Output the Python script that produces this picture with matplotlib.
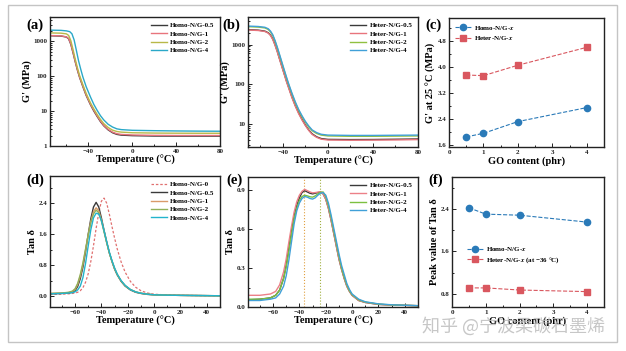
import matplotlib
matplotlib.use("Agg")
import matplotlib.pyplot as plt
from matplotlib.ticker import MultipleLocator, LogLocator, NullFormatter, FixedLocator
from matplotlib.patches import Rectangle

# ---------------- data ----------------
# (a) Homo G' (MPa) vs T
a_T_black = [-75, -65, -60, -58, -56, -54, -52, -50, -48, -45, -42, -38, -35, -32, -29, -26, -22, -18, -14, -10, 0, 20, 40, 60, 80]
a_black   = [1450, 1420, 1330, 1180, 820, 470, 260, 150, 92, 50, 28, 15, 10, 7.0, 5.0, 3.8, 2.9, 2.4, 2.15, 2.05, 1.98, 1.93, 1.92, 1.92, 1.92]
a_red     = [1470, 1440, 1350, 1200, 850, 490, 270, 155, 95, 52, 29, 15.5, 10.5, 7.3, 5.2, 3.9, 3.0, 2.5, 2.25, 2.15, 2.07, 2.02, 2.0, 2.0, 2.0]
a_olive   = [1750, 1720, 1640, 1480, 1050, 580, 310, 175, 105, 57, 32, 17, 11.5, 8.0, 5.8, 4.4, 3.4, 2.85, 2.6, 2.5, 2.4, 2.35, 2.33, 2.32, 2.32]
a_T_teal  = [-75, -65, -60, -57, -55, -53, -51, -49, -47, -45, -42, -38, -35, -32, -29, -26, -22, -18, -14, -10, 0, 20, 40, 60, 80]
a_teal    = [2100, 2070, 2000, 1900, 1650, 1100, 560, 280, 160, 95, 50, 25, 15.5, 10.5, 7.4, 5.6, 4.2, 3.5, 3.1, 2.95, 2.82, 2.75, 2.7, 2.67, 2.65]
a_labels = ["Homo-N/G-0.5", "Homo-N/G-1", "Homo-N/G-2", "Homo-N/G-4"]

# (b) Heter G' (MPa) vs T
b_T      = [-71, -62, -56, -53, -51, -49, -47, -45, -43, -41, -39, -37, -35, -32, -29, -26, -23, -20, -17, -14, -10, -6, 0, 20, 40, 60, 80]
b_black  = [2400, 2330, 2200, 2000, 1750, 1400, 1000, 680, 440, 290, 190, 125, 85, 48, 29, 19, 13, 9.3, 7.0, 5.6, 4.7, 4.25, 4.05, 4.0, 4.02, 4.08, 4.15]
b_red    = [2350, 2280, 2150, 1950, 1700, 1350, 970, 660, 430, 280, 185, 120, 82, 46, 28, 18, 12.5, 9.0, 6.8, 5.4, 4.55, 4.1, 3.9, 3.85, 3.88, 3.92, 4.0]
b_olive  = [2850, 2780, 2650, 2420, 2100, 1700, 1220, 830, 540, 350, 230, 150, 100, 57, 34, 22, 15, 11, 8.3, 6.7, 5.7, 5.2, 4.95, 4.85, 4.85, 4.9, 4.95]
b_teal   = [2950, 2880, 2750, 2520, 2200, 1780, 1280, 870, 570, 370, 240, 158, 105, 60, 36, 23, 16, 11.5, 8.8, 7.0, 6.0, 5.45, 5.2, 5.1, 5.1, 5.15, 5.2]
b_labels = ["Heter-N/G-0.5", "Heter-N/G-1", "Heter-N/G-2", "Heter-N/G-4"]

# (c) G' at 25 C vs GO content
go_content = [0.5, 1, 2, 4]
c_homo  = [1.85, 1.96, 2.32, 2.75]
c_heter = [3.75, 3.73, 4.05, 4.60]

# (d) Homo tan delta vs T
d_T     = [-79, -70, -65, -62, -60, -58, -56, -54, -52, -50, -48, -46, -44, -42, -40, -38, -36, -34, -32, -30, -28, -25, -22, -18, -14, -10, -5, 0, 10, 20, 35, 50]
d_homo0 = [0.05, 0.05, 0.06, 0.07, 0.08, 0.10, 0.14, 0.22, 0.36, 0.58, 0.90, 1.30, 1.75, 2.15, 2.45, 2.53, 2.40, 2.12, 1.80, 1.50, 1.22, 0.88, 0.62, 0.38, 0.23, 0.14, 0.08, 0.05, 0.03, 0.02, 0.015, 0.01]
d_homo05 = [0.06, 0.07, 0.08, 0.10, 0.14, 0.25, 0.45, 0.75, 1.15, 1.60, 2.00, 2.30, 2.42, 2.30, 2.02, 1.70, 1.40, 1.12, 0.90, 0.70, 0.55, 0.38, 0.26, 0.16, 0.10, 0.07, 0.045, 0.035, 0.025, 0.02, 0.015, 0.01]
d_homo1 = [0.07, 0.08, 0.09, 0.12, 0.17, 0.30, 0.52, 0.82, 1.20, 1.58, 1.93, 2.18, 2.28, 2.20, 1.97, 1.68, 1.39, 1.12, 0.90, 0.71, 0.56, 0.39, 0.27, 0.17, 0.11, 0.075, 0.05, 0.035, 0.025, 0.02, 0.015, 0.01]
d_homo2 = [0.07, 0.08, 0.10, 0.13, 0.19, 0.33, 0.56, 0.86, 1.22, 1.58, 1.90, 2.12, 2.22, 2.15, 1.94, 1.66, 1.38, 1.12, 0.90, 0.71, 0.56, 0.39, 0.27, 0.17, 0.11, 0.075, 0.05, 0.035, 0.025, 0.02, 0.015, 0.01]
d_homo4 = [0.06, 0.07, 0.08, 0.09, 0.11, 0.16, 0.26, 0.48, 0.85, 1.30, 1.72, 2.02, 2.14, 2.12, 1.95, 1.69, 1.41, 1.14, 0.92, 0.73, 0.57, 0.40, 0.28, 0.17, 0.11, 0.075, 0.05, 0.035, 0.025, 0.02, 0.015, 0.01]
d_labels = ["Homo-N/G-0", "Homo-N/G-0.5", "Homo-N/G-1", "Homo-N/G-2", "Homo-N/G-4"]

# (e) Heter tan delta vs T
e_T      = [-79, -70, -62, -58, -55, -52, -50, -48, -46, -44, -42, -40, -38, -36, -34, -32, -30, -28, -26, -24, -22, -20, -18, -16, -14, -12, -10, -8, -6, -4, -2, 0, 5, 10, 20, 30, 50]
e_h05    = [0.055, 0.06, 0.07, 0.09, 0.13, 0.22, 0.32, 0.45, 0.58, 0.70, 0.78, 0.84, 0.88, 0.895, 0.885, 0.875, 0.87, 0.875, 0.88, 0.885, 0.87, 0.83, 0.76, 0.67, 0.57, 0.47, 0.37, 0.29, 0.22, 0.16, 0.12, 0.09, 0.05, 0.035, 0.02, 0.015, 0.01]
e_h1     = [0.09, 0.09, 0.10, 0.12, 0.17, 0.27, 0.37, 0.50, 0.62, 0.73, 0.81, 0.86, 0.89, 0.905, 0.895, 0.885, 0.878, 0.88, 0.884, 0.886, 0.87, 0.83, 0.76, 0.67, 0.57, 0.47, 0.37, 0.29, 0.22, 0.16, 0.12, 0.09, 0.05, 0.035, 0.02, 0.015, 0.01]
e_h2     = [0.06, 0.06, 0.07, 0.09, 0.13, 0.22, 0.31, 0.43, 0.56, 0.68, 0.76, 0.82, 0.85, 0.86, 0.855, 0.848, 0.845, 0.855, 0.87, 0.882, 0.885, 0.85, 0.78, 0.69, 0.59, 0.49, 0.39, 0.30, 0.23, 0.17, 0.125, 0.095, 0.055, 0.038, 0.022, 0.016, 0.01]
e_h4     = [0.05, 0.05, 0.06, 0.07, 0.10, 0.16, 0.24, 0.36, 0.50, 0.64, 0.74, 0.80, 0.835, 0.85, 0.845, 0.835, 0.83, 0.84, 0.86, 0.875, 0.88, 0.86, 0.80, 0.71, 0.61, 0.51, 0.41, 0.32, 0.25, 0.18, 0.135, 0.10, 0.06, 0.04, 0.024, 0.017, 0.01]
e_labels = ["Heter-N/G-0.5", "Heter-N/G-1", "Heter-N/G-2", "Heter-N/G-4"]
e_vlines = [-36.5, -24]

# (f) peak tan delta vs GO content
f_homo  = [2.42, 2.30, 2.28, 2.15]
f_heter = [0.91, 0.91, 0.87, 0.84]

watermark = "知乎 @宁波柔碳石墨烯"

# ---------------- style ----------------
SERIF = "Liberation Serif"
plt.rcParams["font.family"] = [SERIF, "DejaVu Serif"]
plt.rcParams["font.weight"] = "bold"
plt.rcParams["axes.labelweight"] = "bold"
plt.rcParams["mathtext.fontset"] = "stix"

W, H = 626, 351
fig = plt.figure(figsize=(W / 100, H / 100), dpi=100)
fig.patch.set_facecolor("white")

def ax_at(l, r, t, b):
    return fig.add_axes([l / W, (H - b) / H, (r - l) / W, (b - t) / H])

def style(ax):
    for s in ax.spines.values():
        s.set_linewidth(1.0)
        s.set_color("#222222")
    ax.tick_params(which="both", direction="in", labelsize=5, width=0.7, colors="#222222", pad=2)
    ax.tick_params(which="major", length=3)
    ax.tick_params(which="minor", length=1.6)
    for lab in ax.get_xticklabels() + ax.get_yticklabels():
        lab.set_fontweight("bold")

LBL = dict(fontsize=7.5, fontweight="bold", labelpad=1)
LEG = dict(frameon=False, prop={"size": 5, "weight": "bold", "family": SERIF},
           handlelength=2.3, labelspacing=0.35, handletextpad=0.5, borderaxespad=0.4)

c_black, c_red, c_olive, c_teal = "#3a3a3a", "#e8747c", "#b8b848", "#2aa8c8"

# outer frame
fig.add_artist(Rectangle((8 / W, (H - 342) / H), 609 / W, 337 / H, transform=fig.transFigure,
                         fill=False, edgecolor="#c4c4c4", linewidth=1.0))

# (a)
ax = ax_at(50, 220, 17, 146)
ax.plot(a_T_black, a_black, color=c_black, lw=1.0, label=a_labels[0])
ax.plot(a_T_black, a_red, color=c_red, lw=1.0, label=a_labels[1])
ax.plot(a_T_black, a_olive, color=c_olive, lw=1.0, label=a_labels[2])
ax.plot(a_T_teal, a_teal, color=c_teal, lw=1.0, label=a_labels[3])
ax.set_yscale("log")
ax.set_xlim(-75, 80)
ax.set_ylim(1, 5000)
ax.xaxis.set_major_locator(MultipleLocator(40))
ax.xaxis.set_minor_locator(MultipleLocator(20))
ax.set_yticks([1, 10, 100, 1000])
ax.set_yticklabels(["1", "10", "100", "1000"])
ax.yaxis.set_minor_locator(LogLocator(base=10, subs=range(2, 10)))
ax.yaxis.set_minor_formatter(NullFormatter())
ax.set_xlabel("Temperature (°C)", **LBL)
ax.set_ylabel("G' (MPa)", **LBL)
ax.legend(loc="upper right", **LEG)
style(ax)

# (b)
ax = ax_at(248, 418, 17, 147)
for y, c, l in zip([b_black, b_red, b_olive, b_teal], [c_black, c_red, "#90c040", "#40a0d8"], b_labels):
    ax.plot(b_T, y, color=c, lw=1.0, label=l)
ax.set_yscale("log")
ax.set_xlim(-71, 80)
ax.set_ylim(2.6, 5000)
ax.xaxis.set_major_locator(MultipleLocator(40))
ax.xaxis.set_minor_locator(MultipleLocator(20))
ax.set_yticks([10, 100, 1000])
ax.set_yticklabels(["10", "100", "1000"])
ax.yaxis.set_minor_locator(LogLocator(base=10, subs=range(2, 10)))
ax.yaxis.set_minor_formatter(NullFormatter())
ax.set_xlabel("Temperature (°C)", **LBL)
ax.set_ylabel("G' (MPa)", **LBL)
ax.legend(loc="upper right", **LEG)
style(ax)

c_blue_m, c_red_m = "#2a7ab8", "#d9575f"

# (c)
ax = ax_at(449, 604, 18, 147)
ax.plot(go_content, c_homo, ls="--", lw=0.8, color=c_blue_m, marker="o", ms=4.5, label="Homo-N/G-$x$")
ax.plot(go_content, c_heter, ls="--", lw=0.8, color=c_red_m, marker="s", ms=4.5, label="Heter-N/G-$x$")
ax.set_xlim(0, 4.5)
ax.set_ylim(1.54, 5.5)
ax.xaxis.set_major_locator(MultipleLocator(1))
ax.xaxis.set_minor_locator(MultipleLocator(0.5))
ax.yaxis.set_major_locator(MultipleLocator(0.8))
ax.yaxis.set_minor_locator(MultipleLocator(0.4))
ax.set_yticks([1.6, 2.4, 3.2, 4.0, 4.8])
ax.set_yticklabels(["1.6", "2.4", "3.2", "4.0", "4.8"])
ax.set_xlabel("GO content (phr)", **LBL)
ax.set_ylabel("G' at 25 °C (MPa)", **LBL)
ax.legend(loc="upper left", **LEG)
style(ax)

# (d)
ax = ax_at(50, 220, 176, 307)
ax.plot(d_T, d_homo0, color="#e07070", lw=0.9, ls=(0, (2, 1.5)), label=d_labels[0])
ax.plot(d_T, d_homo05, color=c_black, lw=1.0, label=d_labels[1])
ax.plot(d_T, d_homo1, color="#d99a6a", lw=1.0, label=d_labels[2])
ax.plot(d_T, d_homo2, color="#90b058", lw=1.0, label=d_labels[3])
ax.plot(d_T, d_homo4, color="#22b4cc", lw=1.0, label=d_labels[4])
ax.set_xlim(-79, 50)
ax.set_ylim(-0.28, 3.1)
ax.xaxis.set_major_locator(MultipleLocator(20))
ax.xaxis.set_minor_locator(MultipleLocator(10))
ax.set_yticks([0.0, 0.8, 1.6, 2.4])
ax.set_yticklabels(["0.0", "0.8", "1.6", "2.4"])
ax.yaxis.set_minor_locator(MultipleLocator(0.4))
ax.set_xlabel("Temperature (°C)", **LBL)
ax.set_ylabel("Tan δ", **LBL)
ax.legend(loc="upper right", **LEG)
style(ax)

# (e)
ax = ax_at(248, 418, 177, 307)
ax.axvline(e_vlines[0], color="#e0a040", lw=0.8, ls=":")
ax.axvline(e_vlines[1], color="#a0b040", lw=0.8, ls=":")
for y, c, l in zip([e_h05, e_h1, e_h2, e_h4], [c_black, "#ec8088", "#7cc040", "#40a0d8"], e_labels):
    ax.plot(e_T, y, color=c, lw=1.0, label=l)
ax.set_xlim(-79, 50)
ax.set_ylim(0, 1.0)
ax.xaxis.set_major_locator(MultipleLocator(20))
ax.xaxis.set_minor_locator(MultipleLocator(10))
ax.set_yticks([0.0, 0.3, 0.6, 0.9])
ax.set_yticklabels(["0.0", "0.3", "0.6", "0.9"])
ax.yaxis.set_minor_locator(MultipleLocator(0.15))
ax.set_xlabel("Temperature (°C)", **LBL)
ax.set_ylabel("Tan δ", **LBL)
ax.legend(loc="upper right", **LEG)
style(ax)

# (f)
ax = ax_at(452, 604, 177, 307)
ax.plot(go_content, f_homo, ls="--", lw=0.8, color=c_blue_m, marker="o", ms=4.5, label="Homo-N/G-$x$")
ax.plot(go_content, f_heter, ls="--", lw=0.8, color=c_red_m, marker="s", ms=4.5, label="Heter-N/G-$x$ (at −36 °C)")
ax.set_xlim(0, 4.5)
ax.set_ylim(0.55, 3.0)
ax.xaxis.set_major_locator(MultipleLocator(1))
ax.xaxis.set_minor_locator(MultipleLocator(0.5))
ax.set_yticks([0.8, 1.6, 2.4])
ax.set_yticklabels(["0.8", "1.6", "2.4"])
ax.yaxis.set_minor_locator(MultipleLocator(0.4))
ax.set_xlabel("GO content (phr)", **LBL)
ax.set_ylabel("Peak value of Tan δ", **LBL)
ax.legend(loc="upper left", bbox_to_anchor=(0.06, 0.52), **LEG)
style(ax)

# panel letters
for txt, x, y in [("(a)", 26, 25), ("(b)", 222, 25), ("(c)", 425, 25),
                  ("(d)", 26, 180), ("(e)", 226, 180), ("(f)", 428, 180)]:
    fig.text(x / W, (H - y) / H, txt, fontsize=10.5, fontweight="bold", va="center", ha="left")

# watermark
fig.text(422 / W, (H - 326) / H, watermark, fontsize=13, color="#bdbdbd", alpha=0.85,
         family=["Noto Sans CJK SC", "DejaVu Sans"], fontweight="normal", va="center", ha="left")

fig.savefig("out.png", dpi=100)
